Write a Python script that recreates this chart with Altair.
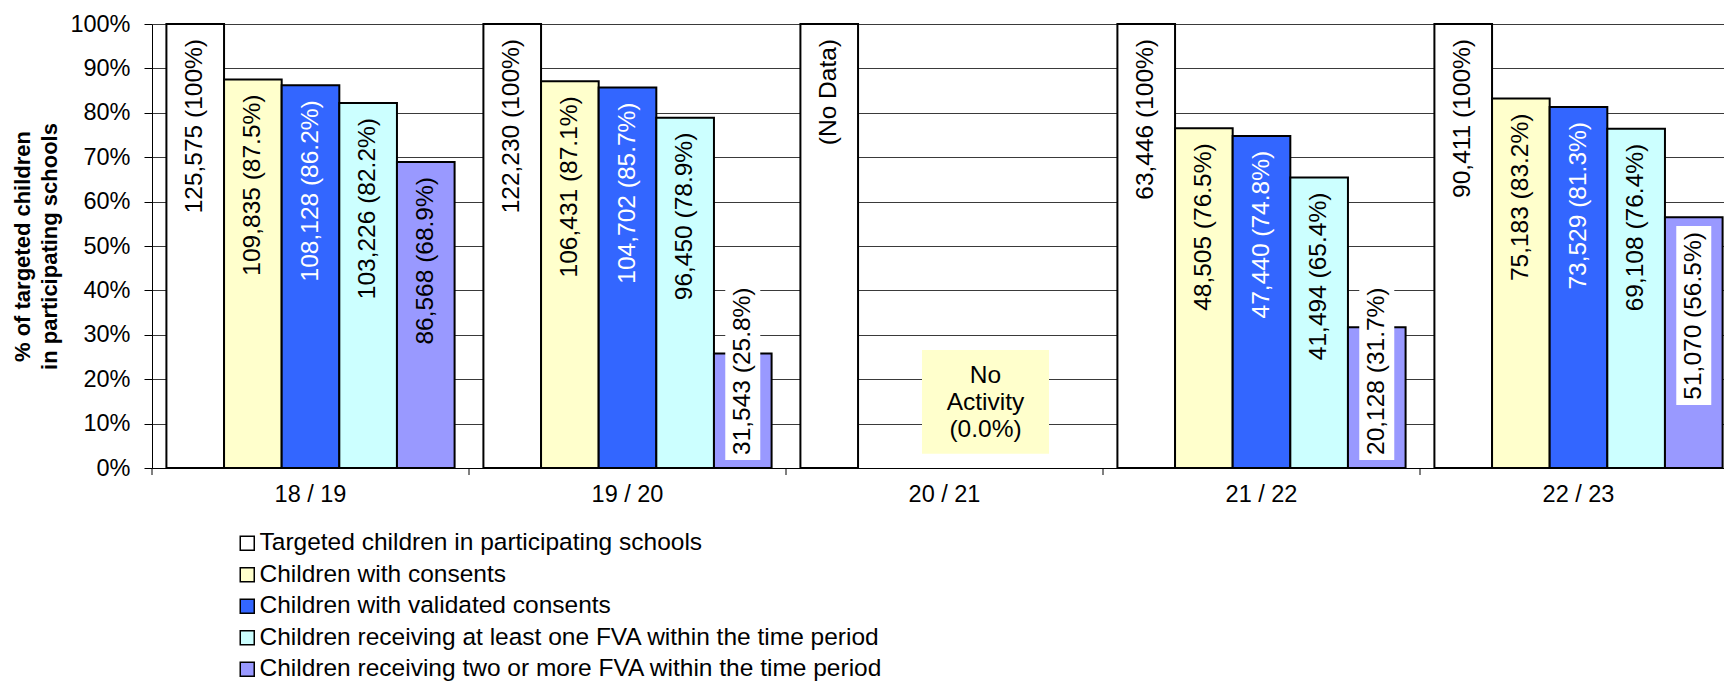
import altair as alt
import pandas as pd

years = ["18 / 19", "19 / 20", "20 / 21", "21 / 22", "22 / 23"]
series = [
    "Targeted children in participating schools",
    "Children with consents",
    "Children with validated consents",
    "Children receiving at least one FVA within the time period",
    "Children receiving two or more FVA within the time period",
]
colors = ["#FFFFFF", "#FFFFCC", "#3366FF", "#CCFFFF", "#9999FF"]

targeted = [125575, 122230, None, 63446, 90411]
consents = [109835, 106431, None, 48505, 75183]
consents_pct = [87.5, 87.1, None, 76.5, 83.2]
validated = [108128, 104702, None, 47440, 73529]
validated_pct = [86.2, 85.7, None, 74.8, 81.3]
one_fva = [103226, 96450, None, 41494, 69108]
one_fva_pct = [82.2, 78.9, None, 65.4, 76.4]
two_fva = [86568, 31543, None, 20128, 51070]
two_fva_pct = [68.9, 25.8, None, 31.7, 56.5]

no_data_label = "(No Data)"
no_activity_year = "20 / 21"
no_activity_text = "No\nActivity\n(0.0%)"

rows = []
for i, yr in enumerate(years):
    if targeted[i] is None:
        rows.append({"year": yr, "series": series[0], "pct": 100.0, "label": no_data_label})
        continue
    rows.append({"year": yr, "series": series[0], "pct": 100.0, "label": f"{targeted[i]:,} (100%)"})
    for s, cnt, pc in zip(series[1:], [consents, validated, one_fva, two_fva],
                          [consents_pct, validated_pct, one_fva_pct, two_fva_pct]):
        rows.append({"year": yr, "series": s, "pct": pc[i], "label": f"{cnt[i]:,} ({pc[i]:.1f}%)"})
df = pd.DataFrame(rows)

FS = 23.5
LFS = 24.5
x_enc = alt.X("year:N", sort=years, scale=alt.Scale(domain=years, paddingInner=0, paddingOuter=0),
              axis=alt.Axis(title=None, labelAngle=0, ticks=False, domainColor="black", domainWidth=1,
                            labelFontSize=FS, labelColor="black", labelPadding=14, grid=False))
xo_enc = alt.XOffset("series:N", sort=series,
                     scale=alt.Scale(domain=series, paddingInner=0, paddingOuter=0.25))
y_scale = alt.Scale(domain=[0, 100], nice=False)

base = alt.Chart(df)

bars = base.mark_bar(stroke="black", strokeWidth=2).encode(
    x=x_enc,
    xOffset=xo_enc,
    y=alt.Y("pct:Q", scale=y_scale,
            axis=alt.Axis(values=list(range(0, 101, 10)), labelExpr="datum.value + '%'",
                          grid=True, gridColor="#3a3a3a", gridWidth=1,
                          domainColor="black", tickColor="black", tickSize=8,
                          labelFontSize=FS, labelColor="black", labelPadding=14,
                          title=["% of targeted children", "in participating schools"],
                          titleFontSize=22, titleFontWeight="bold", titleColor="black",
                          titlePadding=8, titleLineHeight=27)),
    color=alt.Color("series:N", sort=series, scale=alt.Scale(domain=series, range=colors),
                    legend=alt.Legend(title=None, orient="none", legendX=83, legendY=507,
                                      symbolType="square", symbolSize=196,
                                      symbolStrokeColor="black", symbolStrokeWidth=1.5,
                                      labelFontSize=LFS, labelColor="black", labelLimit=0,
                                      rowPadding=6.5, labelOffset=0)),
)

ticks = alt.Chart(pd.DataFrame({"year": years})).mark_rule(color="black").encode(
    x=alt.X("year:N", sort=years, bandPosition=0),
    y=alt.value(444), y2=alt.value(451),
)

label_color = alt.condition("datum.series == 'Children with validated consents'",
                            alt.value("white"), alt.value("black"))

boxes = base.transform_filter("datum.pct < 60").transform_calculate(
    lo="datum.pct < 45 ? 1.8 : datum.pct - 42.3",
    hi="datum.pct < 45 ? 40.8 : datum.pct - 2",
).mark_bar(color="white", width=35).encode(
    x=x_enc, xOffset=xo_enc, y=alt.Y("lo:Q", scale=y_scale), y2="hi:Q")

labels_top = base.transform_filter("datum.pct >= 45").mark_text(
    angle=270, align="right", baseline="middle", dx=-15, fontSize=LFS).encode(
    x=x_enc, xOffset=xo_enc, y=alt.Y("pct:Q", scale=y_scale), text="label:N", color=label_color)

labels_bottom = base.transform_filter("datum.pct < 45").mark_text(
    angle=270, align="left", baseline="middle", dx=13, fontSize=LFS).encode(
    x=x_enc, xOffset=xo_enc, y=alt.datum(0), text="label:N", color=label_color)

ann_df = pd.DataFrame({"year": [no_activity_year], "text": [no_activity_text]})
ann_box = alt.Chart(ann_df).mark_bar(color="#FFFFCC", width=127, xOffset=41).encode(
    x=alt.X("year:N", sort=years), y=alt.datum(3.2), y2=alt.datum(26.6))
ann_text = alt.Chart(ann_df).mark_text(lineBreak="\n", fontSize=LFS, lineHeight=27,
                                       align="center", baseline="middle", dx=41).encode(
    x=alt.X("year:N", sort=years), y=alt.datum(20.7), text="text:N", color=alt.value("black"))

chart = alt.layer(bars, ticks, boxes, labels_top, labels_bottom, ann_box, ann_text).properties(
    width=1585, height=444,
    padding={"left": 144, "top": 16, "right": -13, "bottom": 218},
    autosize=alt.AutoSizeParams(type="none"),
).configure(font="Liberation Sans").configure_view(stroke=None)

chart.save("out.html", embed_options={"renderer": "svg", "actions": False})
